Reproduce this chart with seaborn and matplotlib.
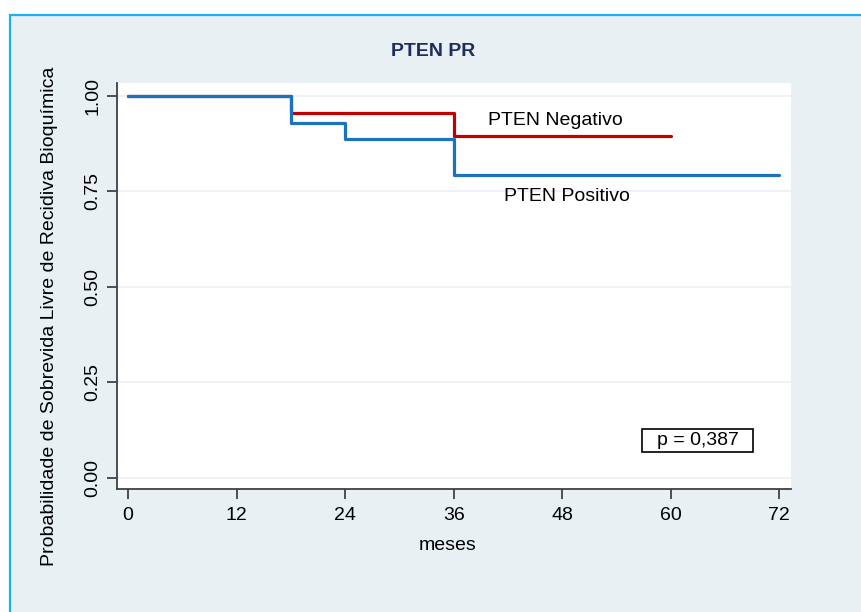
import matplotlib
matplotlib.use("Agg")
import matplotlib.pyplot as plt
from matplotlib.patches import Rectangle
import seaborn as sns
import pandas as pd

# Kaplan-Meier step estimates per group
neg_time = [0, 18, 36, 60]
neg_surv = [1.0, 0.955, 0.894, 0.894]
pos_time = [0, 18, 24, 36, 72]
pos_surv = [1.0, 0.929, 0.887, 0.792, 0.792]
groups = ["PTEN Negativo", "PTEN Positivo"]
x_ticks = [0, 12, 24, 36, 48, 60, 72]
y_ticks = [0.0, 0.25, 0.5, 0.75, 1.0]
p_text = "p = 0,387"

df = pd.concat([
    pd.DataFrame({"meses": neg_time, "surv": neg_surv, "grupo": groups[0]}),
    pd.DataFrame({"meses": pos_time, "surv": pos_surv, "grupo": groups[1]}),
])

sns.set_theme(style="white")
plt.rcParams["font.family"] = ["Liberation Sans", "DejaVu Sans"]
plt.rcParams["text.color"] = "black"

W, H = 862, 612
fig = plt.figure(figsize=(W / 100, H / 100), dpi=100, facecolor="white")

# graph region background with its border
fig.patches.append(Rectangle((10 / W, -0.01), 1.0, 1 - 15 / H + 0.01,
                             transform=fig.transFigure, facecolor="#e8f0f3",
                             edgecolor="#1ab2ee", linewidth=1.6, zorder=-10))

ax = fig.add_axes([117 / W, 1 - 489 / H, 674 / W, 406 / H])
ax.set_zorder(5)
ax.set_facecolor("white")

sns.lineplot(data=df, x="meses", y="surv", hue="grupo", hue_order=groups,
             palette=["#c10000", "#1b72be"], estimator=None, sort=True,
             drawstyle="steps-post", linewidth=2.3, legend=False, ax=ax)

ax.set_xlim(-1.22, 73.3)
ax.set_ylim(-0.029, 1.034)
ax.set_xticks(x_ticks)
ax.set_yticks(y_ticks)
ax.set_yticklabels([f"{v:.2f}" for v in y_ticks], rotation=90, va="center")
ax.tick_params(axis="both", labelsize=14, colors="#333333", labelcolor="black",
               length=7, width=1.2, direction="out")
ax.tick_params(axis="x", bottom=True, pad=6)
ax.tick_params(axis="y", left=True, pad=4)
for v in y_ticks:
    ax.axhline(v, color="#e9f0f3", linewidth=1.2, zorder=0)

for side in ["top", "right"]:
    ax.spines[side].set_visible(False)
for side in ["left", "bottom"]:
    ax.spines[side].set_color("#404040")
    ax.spines[side].set_linewidth(1.3)

ax.set_xlabel("")
ax.set_ylabel("")
fig.text(448 / W, 1 - 546 / H, "meses", ha="center", va="center", fontsize=14)
fig.text(50 / W, 1 - 316 / H, "Probabilidade de Sobrevida Livre de Recidiva Bioquímica",
         ha="center", va="center", rotation=90, fontsize=14)
fig.text(433 / W, 1 - 52 / H, "PTEN PR", ha="center", va="center", fontsize=14,
         fontweight="bold", color="#1e2d5c")

ax.text(47.2, 0.937, groups[0], ha="center", va="center", fontsize=14)
ax.text(48.5, 0.738, groups[1], ha="center", va="center", fontsize=14)

ax.add_patch(Rectangle((56.85, 0.068), 12.25, 0.06, facecolor="white",
                       edgecolor="black", linewidth=1.2, zorder=3))
ax.text(63.0, 0.098, p_text, ha="center", va="center", fontsize=14, zorder=4)

fig.savefig("out.png", dpi=100, facecolor="white")
